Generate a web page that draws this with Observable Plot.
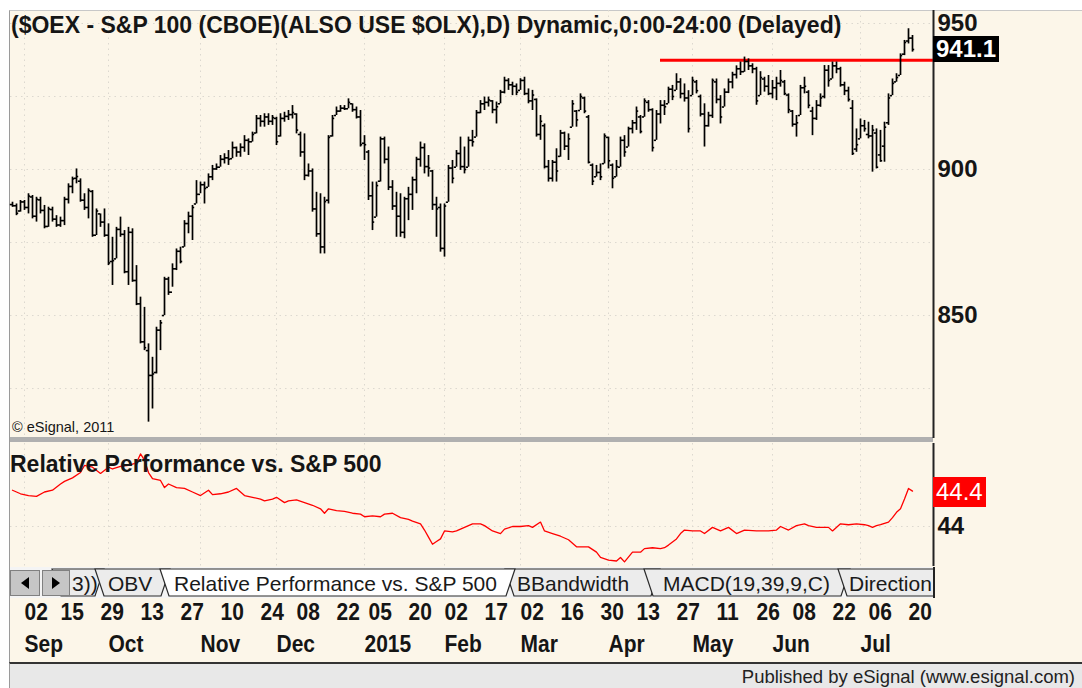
<!DOCTYPE html>
<html><head><meta charset="utf-8">
<script src="https://cdn.jsdelivr.net/npm/d3@7"></script>
<script src="https://cdn.jsdelivr.net/npm/@observablehq/plot@0.6"></script>
<style>
html,body{margin:0;padding:0;background:#fff;}
#root{position:relative;width:1082px;height:688px;overflow:hidden;background:#fff;font-family:"Liberation Sans",Arial,Helvetica,sans-serif;color:#151515;}
#cream{position:absolute;left:9px;top:10px;width:1073px;height:653px;background:#FCF6E9;border-top:1px solid #c8c8c8;border-left:1px solid #9a9a9a;box-sizing:border-box;}
#split{position:absolute;left:10px;top:437px;width:923px;height:5px;background:#b0b0b0;}
#footer{position:absolute;left:9px;top:662px;width:1073px;height:26px;background:#e8e8e8;border-top:2px solid #333;border-left:1px solid #9a9a9a;box-sizing:border-box;}
#footer span{position:absolute;right:7px;top:2px;font-size:18.5px;color:#222;white-space:nowrap;}
.ttl{position:absolute;font-weight:bold;font-size:23px;line-height:23px;white-space:nowrap;color:#151515;}
.box{position:absolute;font-weight:bold;font-size:24px;line-height:26px;height:26px;color:#fff;padding:0 3px;white-space:nowrap;}
.plot{position:absolute;left:0;}
</style></head>
<body><div id="root">
<div id="cream"></div>
<div id="split"></div>
<div id="footer"><span>Published by eSignal (www.esignal.com)</span></div>
</div>
<script>
// Sessions are trading days counted from 02 Sep 2014 (= 0); first bar is 27 Aug 2014 (= -3), last 21 Jul 2015 (= 222)
const firstSession = -3;
const high = [
888.8,888.2,889.4,889.4,891.7,891.1,890.5,890.5,887.7,887.1,
887.1,884.2,883.7,890.5,895.1,897.4,900.2,896.8,891.7,893.4,
892.8,886.5,884.8,886.5,881.4,876.8,880.2,883.7,879.1,880.2,
879.7,867.1,856.3,852.8,840.3,835.7,846.0,848.3,863.1,863.1,
867.7,872.8,873.4,882.5,885.4,887.7,896.2,895.7,895.7,898.5,
901.4,901.9,904.8,905.4,906.5,909.4,907.7,908.8,911.6,910.5,
912.8,918.5,918.5,919.1,919.1,918.5,917.9,919.1,919.6,920.2,
921.9,919.1,912.8,912.2,901.9,900.2,892.2,891.7,890.5,911.6,
918.5,921.4,921.9,921.9,924.2,922.5,921.4,920.2,911.6,906.5,
895.7,895.7,911.1,911.1,907.7,896.2,892.2,891.7,890.5,893.9,
897.4,904.2,909.4,908.8,904.8,899.7,890.5,888.2,888.2,901.4,
903.1,906.5,911.1,907.7,911.1,913.4,920.2,923.6,924.8,924.8,
923.6,923.1,927.1,931.6,931.1,929.9,929.3,931.1,931.6,927.6,
927.1,924.2,918.5,915.6,903.1,903.1,907.1,913.4,912.8,912.2,
923.6,920.2,925.9,924.8,918.5,901.9,901.4,901.9,912.2,911.1,
901.9,903.1,911.1,911.6,914.5,916.8,921.4,918.5,924.2,923.6,
920.8,920.2,923.6,923.6,928.2,928.8,932.8,931.1,929.3,927.0,
931.6,930.5,925.5,922.5,919.6,931.0,931.0,925.3,927.6,931.0,
933.3,935.5,936.8,938.5,937.9,936.2,935.0,933.5,931.6,932.2,
930.5,931.6,933.9,930.5,925.9,920.2,918.5,928.8,931.6,927.0,
921.3,923.6,925.9,935.6,935.6,936.8,936.8,935.0,929.9,928.2,
923.6,913.9,917.3,916.8,916.2,915.1,913.9,913.4,916.2,925.9,
931.0,932.8,939.6,944.2,948.2,945.9];
const low = [
887.1,884.2,885.4,886.0,884.8,883.1,882.0,884.8,879.7,880.2,
882.0,880.2,880.2,880.8,888.2,891.7,895.1,888.8,886.0,883.1,
876.8,877.4,880.2,876.8,867.1,860.3,869.4,876.8,864.3,860.3,
861.4,853.4,840.3,838.0,813.5,818.0,830.0,838.0,850.0,856.9,
859.7,865.4,867.7,873.4,878.0,875.7,888.2,891.7,888.2,893.9,
896.2,899.7,900.8,901.9,901.4,903.7,904.2,904.2,905.9,904.8,
909.4,912.2,914.5,914.5,915.1,915.1,908.2,911.1,916.2,916.8,
917.3,912.2,904.2,896.2,897.4,885.4,876.8,871.1,871.1,888.2,
911.1,918.5,919.6,920.2,920.8,919.6,917.3,907.7,903.1,889.4,
879.1,883.7,895.7,901.9,892.8,886.0,876.8,876.8,876.3,882.5,
886.0,891.7,900.8,898.5,897.4,886.0,876.8,871.7,870.0,888.8,
895.1,900.8,899.7,898.5,900.8,907.7,911.1,919.1,920.2,921.4,
919.1,915.6,922.5,925.9,927.1,925.3,925.3,927.1,925.3,922.5,
920.2,911.1,910.0,900.2,895.7,895.7,895.7,904.2,906.5,903.1,
914.5,914.5,920.2,919.1,901.9,894.5,897.4,896.2,901.9,900.2,
893.4,897.4,900.8,904.2,907.7,912.2,913.4,912.2,917.9,919.6,
906.0,910.0,915.6,918.5,922.5,923.6,927.1,924.2,923.1,912.5,
925.3,925.9,918.0,907.7,914.5,917.5,922.5,915.6,921.4,926.0,
927.6,931.0,932.2,933.3,933.9,932.8,922.0,925.3,926.5,925.3,
924.2,923.6,928.2,925.3,919.1,914.5,911.1,918.5,925.9,920.8,
911.6,916.8,921.3,924.2,928.2,931.0,932.8,928.2,925.3,923.1,
904.8,905.9,910.5,912.8,910.5,899.1,900.2,902.5,902.5,915.1,
925.3,929.9,932.2,939.0,943.0,940.2];
const open = [
888.0,887.6,885.8,888.9,887.0,890.6,884.0,889.6,886.0,880.5,
886.3,883.0,881.0,882.5,889.8,894.2,897.0,896.0,889.5,887.0,
892.5,877.5,884.8,882.0,877.5,868.5,869.4,879.5,877.8,865.0,
878.5,862.0,854.0,841.0,838.0,829.5,830.5,845.0,850.0,862.5,
858.0,866.0,872.0,873.5,881.5,884.0,888.2,891.5,894.8,893.9,
897.5,900.2,900.8,903.5,904.0,903.7,907.5,906.0,907.6,910.0,
909.5,912.5,917.5,916.5,918.0,916.5,917.5,911.5,917.5,918.2,
918.8,919.0,912.0,906.0,898.0,899.5,886.5,878.0,873.5,889.5,
911.5,918.5,920.0,921.0,920.8,922.5,920.5,918.0,909.0,906.0,
891.0,883.7,896.0,910.5,903.5,894.0,887.5,884.0,878.5,890.0,
891.5,896.5,903.5,907.5,901.0,899.5,888.0,887.0,873.0,888.8,
900.5,900.8,905.5,901.0,900.8,910.0,911.1,919.5,922.5,923.0,
923.5,920.5,922.5,926.5,930.5,929.0,928.5,927.1,930.5,926.0,
923.5,924.0,912.0,915.0,901.0,897.0,902.5,904.5,912.5,908.0,
914.5,920.0,920.2,924.5,918.0,901.5,897.5,899.0,902.0,911.0,
901.5,897.5,900.8,910.0,907.7,914.0,916.0,918.0,918.0,923.0,
920.5,910.0,919.0,922.0,922.5,927.5,927.1,930.0,926.0,924.5,
925.3,930.0,925.0,919.0,915.0,918.5,930.0,924.0,921.4,926.5,
930.0,932.5,934.5,933.5,937.0,935.5,934.5,925.3,931.0,928.5,
926.0,928.0,929.5,930.0,925.5,920.0,915.5,918.5,928.0,926.5,
920.0,917.5,922.0,925.0,934.0,931.0,935.5,934.5,929.0,927.0,
921.0,907.0,910.5,915.0,912.0,911.5,912.5,905.0,908.0,916.0,
925.3,930.0,932.2,939.5,944.0,945.0];
const close = [
887.6,885.0,888.9,887.0,890.9,884.0,889.8,886.0,880.5,886.5,
883.0,881.0,882.5,889.8,894.2,896.8,897.6,889.5,887.0,892.8,
877.5,885.8,882.0,877.5,868.0,868.8,879.5,877.8,865.0,878.5,
862.0,854.0,841.0,839.0,829.5,830.0,845.0,847.5,862.5,858.0,
866.0,872.0,868.5,881.5,884.0,887.0,891.5,894.8,893.5,897.5,
900.2,900.8,903.5,904.0,903.5,907.5,906.0,907.6,910.0,909.5,
912.0,917.5,916.5,918.0,916.5,917.8,909.5,917.5,918.2,918.8,
919.5,913.5,906.0,898.0,899.5,886.5,878.0,873.5,889.0,911.0,
917.5,920.0,921.0,920.8,923.0,920.5,918.0,908.5,908.5,891.0,
882.0,894.5,910.5,903.5,894.0,887.5,884.0,878.5,890.0,891.5,
896.5,903.5,907.5,901.0,900.5,888.0,886.5,873.0,887.5,900.5,
897.0,905.5,901.0,900.0,910.0,909.5,919.5,922.5,923.0,923.8,
920.5,921.5,926.5,930.5,929.0,928.5,926.5,930.5,926.0,923.5,
925.5,912.0,916.5,901.0,897.0,902.5,899.5,912.5,908.0,910.5,
922.5,917.0,925.0,920.0,902.5,896.0,899.0,897.5,911.5,903.0,
897.0,901.0,910.0,906.0,914.0,916.0,920.0,913.0,923.5,920.5,
907.5,919.0,922.0,921.5,927.5,925.0,930.0,926.0,924.5,914.0,
930.5,927.0,919.0,915.0,918.5,930.5,924.0,918.0,926.5,930.0,
932.5,934.5,933.5,937.0,935.5,934.5,923.5,931.5,928.5,926.0,
928.0,929.5,930.5,926.0,920.5,915.5,916.0,928.0,928.5,922.0,
917.5,922.0,924.5,934.0,930.5,935.5,934.5,929.0,927.0,924.0,
905.5,908.5,915.0,914.0,911.5,913.5,900.8,903.0,914.5,924.5,
929.5,931.5,939.0,943.5,945.0,941.1];
// Relative performance vs S&P 500: [session, value]
const relPerf = [
[-3,44.41],[-1,44.37],[1,44.35],[3,44.34],[5,44.39],[7,44.41],[9,44.48],[10,44.51],[12,44.55],[14,44.61],
[15,44.69],[17,44.67],[19,44.60],[21,44.67],[22,44.65],[24,44.68],[26,44.69],[28,44.72],[29,44.82],[30,44.75],
[31,44.61],[32,44.54],[34,44.52],[35,44.44],[36,44.48],[38,44.44],[40,44.43],[42,44.39],[44,44.35],[46,44.41],
[47,44.36],[49,44.37],[51,44.39],[53,44.43],[55,44.35],[57,44.33],[59,44.31],[60,44.29],[62,44.31],[63,44.33],
[65,44.27],[66,44.29],[68,44.30],[70,44.27],[72,44.24],[74,44.20],[75,44.15],[76,44.20],[78,44.18],[80,44.17],
[82,44.15],[84,44.14],[85,44.11],[87,44.12],[89,44.11],[90,44.14],[92,44.15],[94,44.10],[96,44.08],[97,44.06],
[99,44.03],[100,43.96],[101,43.88],[102,43.80],[103,43.83],[104,43.86],[105,43.95],[107,43.94],[108,43.95],[110,43.99],
[112,44.03],[114,44.03],[115,44.01],[117,43.95],[119,43.92],[120,43.97],[122,44.00],[124,44.00],[126,44.01],[127,43.99],
[129,44.05],[130,43.95],[132,43.92],[134,43.89],[136,43.85],[138,43.77],[139,43.77],[141,43.77],[143,43.71],[144,43.65],
[146,43.62],[148,43.61],[149,43.65],[150,43.60],[152,43.71],[154,43.71],[155,43.75],[157,43.76],[159,43.75],[160,43.76],
[161,43.79],[163,43.86],[164,43.92],[165,43.96],[167,43.95],[169,43.95],[170,43.92],[172,43.99],[174,43.95],[176,43.99],
[178,43.92],[180,43.96],[183,43.95],[184,43.95],[186,43.95],[188,43.96],[189,44.00],[191,43.96],[193,44.01],[195,44.03],
[196,44.01],[198,43.99],[201,43.99],[202,43.95],[204,44.03],[206,44.02],[208,44.03],[210,44.02],[211,44.01],[212,43.99],
[213,44.01],[214,44.02],[216,44.05],[217,44.10],[218,44.16],[219,44.20],[220,44.31],[221,44.43],[222,44.40]];
const dayTickSession = [0,9,19,29,39,49,59,68,78,86,96,105,115,124,134,144,153,163,173,183,192,202,211,221];
const dayTickLabel = ["02","15","29","13","27","10","24","08","22","05","20","02","17","02","16","30","13","27","11","26","08","22","06","20"];
const monthSession = [0,21,44,63,85,105,124,146,167,187,209];
const monthLabel = ["Sep","Oct","Nov","Dec","2015","Feb","Mar","Apr","May","Jun","Jul"];
const priceTicks = [850,900,950];
const priceGrid = [825,850,875,900,925,950];
const relTicks = [44];
const relGrid = [44];
const lastPrice = 941.1;
const lastRel = 44.4;
const resistanceLevel = 937.4;
const resistanceFrom = 159;
const titleText = "($OEX - S&P 100 (CBOE)(ALSO USE $OLX),D) Dynamic,0:00-24:00 (Delayed)";
const panelText = "Relative Performance vs. S&P 500";
const tabs = ["3))","OBV","Relative Performance vs. S&P 500","BBandwidth","MACD(19,39,9,C)","Direction"];

const bars = high.map((h,k)=>({s:firstSession+k, high:h, low:low[k], open:open[k], close:close[k]}));
const rel = relPerf.map(([s,v])=>({s,v}));
const dayTicks = dayTickSession.map((s,k)=>({s,label:dayTickLabel[k]}));
const monthTicks = monthSession.map((s,k)=>({s,label:monthLabel[k]}));

const xDomain = [-3.5, 227.25];
const gridC = "#dcd8cf";
const font = '"Liberation Sans", Arial, sans-serif';
const root = document.getElementById("root");

const main = Plot.plot({
  width:1082, height:438, marginLeft:10, marginRight:149, marginTop:10, marginBottom:0,
  x:{domain:xDomain, axis:null},
  y:{domain:[807.9,954.45], axis:null},
  style:{background:"transparent", fontFamily:font, color:"#151515", overflow:"visible"},
  marks:[
    Plot.ruleY(priceGrid,{stroke:gridC, strokeDasharray:"1.5,4"}),
    Plot.ruleX(monthSession,{stroke:gridC, strokeDasharray:"1.5,4"}),
    Plot.ruleY([resistanceLevel],{x1:()=>resistanceFrom, x2:()=>xDomain[1], stroke:"#ff0000", strokeWidth:3}),
    Plot.ruleX(bars,{x:"s", y1:"low", y2:"high", stroke:"#000", strokeWidth:1.7}),
    Plot.ruleY(bars,{y:"open", x1:d=>d.s-0.55, x2:"s", stroke:"#000", strokeWidth:1.6}),
    Plot.ruleY(bars,{y:"close", x1:"s", x2:d=>d.s+0.55, stroke:"#000", strokeWidth:1.6}),
    Plot.ruleX([xDomain[1]],{stroke:"#222", strokeWidth:2}),
    Plot.axisY({anchor:"right", ticks:priceTicks, tickSize:0, tickPadding:4, fontSize:24, fontWeight:"bold", label:null, tickFormat:d=>String(d), fill:"#151515"})
  ]
});
main.classList.add("plot"); main.style.top="0px";
root.appendChild(main);

const lower = Plot.plot({
  width:1082, height:223, marginLeft:10, marginRight:149, marginTop:3, marginBottom:97,
  x:{domain:xDomain, axis:null},
  y:{domain:[43.548,44.938], axis:null},
  style:{background:"transparent", fontFamily:font, color:"#151515", overflow:"visible"},
  marks:[
    Plot.ruleY(relGrid,{stroke:gridC, strokeDasharray:"1.5,4"}),
    Plot.ruleX(monthSession,{stroke:gridC, strokeDasharray:"1.5,4"}),
    Plot.line(rel,{x:"s", y:"v", stroke:"#ff0000", strokeWidth:1.3}),
    Plot.ruleX([xDomain[1]],{stroke:"#222", strokeWidth:2}),
    Plot.axisY({anchor:"right", ticks:relTicks, tickSize:0, tickPadding:4, fontSize:24, fontWeight:"bold", label:null, tickFormat:d=>String(d), fill:"#151515"}),
    Plot.text(dayTicks,{x:"s", text:"label", frameAnchor:"bottom", dy:53, textAnchor:"start", fontSize:21, fontWeight:"bold", fill:"#151515", className:"datelbl"}),
    Plot.text(monthTicks,{x:"s", text:"label", frameAnchor:"bottom", dy:85, textAnchor:"start", fontSize:21, fontWeight:"bold", fill:"#151515", className:"datelbl"})
  ]
});
lower.classList.add("plot"); lower.style.top="440px";
root.appendChild(lower);
// the reference's date digits are drawn slightly taller than wide
lower.querySelectorAll("g.datelbl text").forEach(t=>{
  const tr=t.getAttribute("transform")||""; t.setAttribute("transform", tr+" scale(1,1.12)");
});

function addDiv(cls, text, left, top, extra){
  const d=document.createElement("div"); d.className=cls; d.textContent=text;
  d.style.left=left+"px"; d.style.top=top+"px"; if(extra) Object.assign(d.style, extra);
  root.appendChild(d); return d;
}
addDiv("ttl", titleText, 11, 14);
addDiv("ttl", panelText, 10, 453);
addDiv("ttl", "\u00a9 eSignal, 2011", 12, 420, {fontWeight:"normal", fontSize:"14.5px", lineHeight:"14px"});

// last-value boxes placed through the plots' scales
const yMain = main.scale("y"), yLow = lower.scale("y");
addDiv("box", lastPrice.toFixed(1), 933, Math.round(yMain.apply(lastPrice)) - 13, {background:"#000"});
addDiv("box", lastRel.toFixed(1), 933, 440 + Math.round(yLow.apply(lastRel)) - 14, {background:"#ff0000", fontWeight:"normal", height:"30px", lineHeight:"30px"});

// tab bar (interface chrome)
const ns="http://www.w3.org/2000/svg";
const tb=document.createElementNS(ns,"svg");
tb.setAttribute("width","935"); tb.setAttribute("height","31");
tb.style.position="absolute"; tb.style.left="0px"; tb.style.top="567px";
const tabGeom=[[52,104,72],[95,170,108],[160,515,174],[505,660,517],[644,850,663],[838,960,849]];
let html = `<rect x="10" y="0" width="923" height="31" fill="#f4f4f4"/>`;
const order=[0,1,3,4,5,2];
for(const k of order){
  const [xl,xr,tx]=tabGeom[k]; const sel = k===2;
  html += `<polygon points="${xl},2 ${xr},2 ${xr-9},29 ${xl+9},29" fill="${sel?'#ffffff':'#ececec'}" stroke="#2a2a2a" stroke-width="1.2"/>`;
  html += `<text x="${tx}" y="24" font-family='${font}' font-size="21" fill="#1a1a1a">${tabs[k].replace(/&/g,"&amp;")}</text>`;
}
html += `<rect x="10.5" y="3.5" width="29" height="25" fill="#c6c6c6" stroke="#808080"/>`;
html += `<rect x="42.5" y="3.5" width="27" height="25" fill="#c6c6c6" stroke="#808080"/>`;
html += `<polygon points="21,16 29,10 29,22" fill="#000"/>`;
html += `<polygon points="60,16 52,10 52,22" fill="#000"/>`;
html += `<rect x="933" y="0" width="2" height="31" fill="#222"/>`;
tb.innerHTML = html;
root.appendChild(tb);
</script>
</body></html>
